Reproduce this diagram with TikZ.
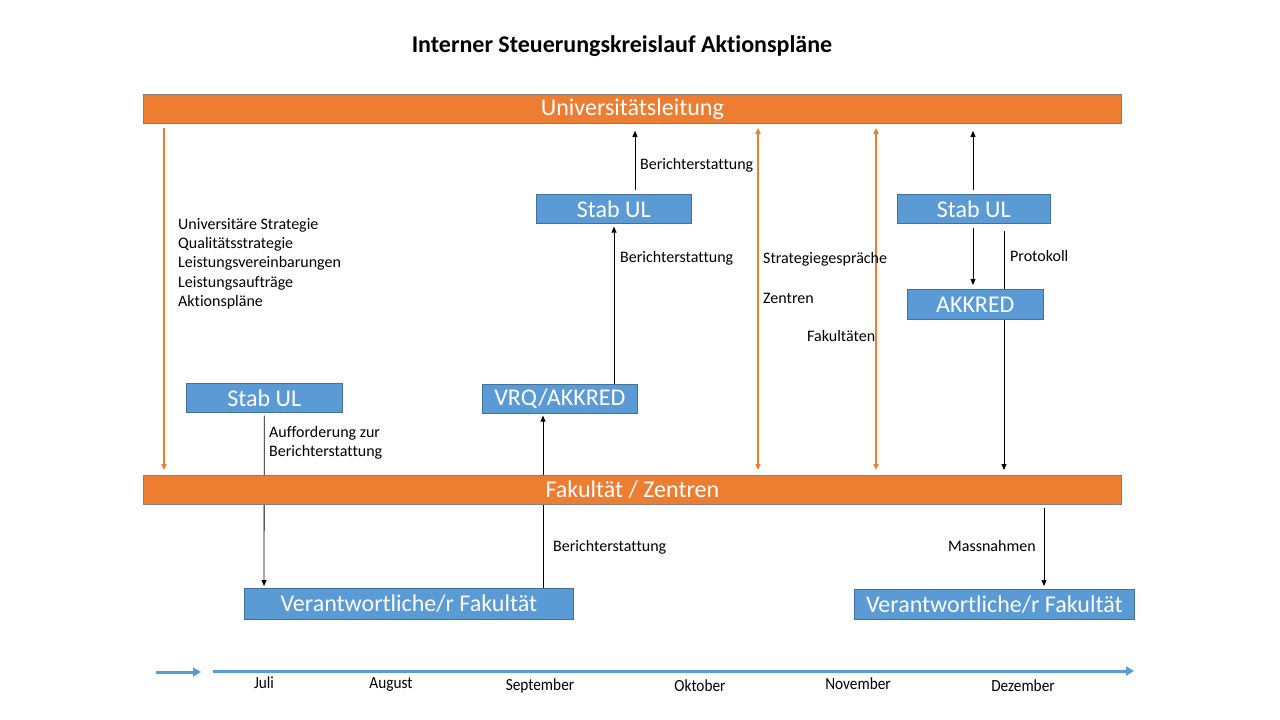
\documentclass[tikz,border=0pt]{standalone}
\usepackage{fontspec}
\setmainfont{Carlito}[Ligatures={NoCommon}]
\usetikzlibrary{arrows.meta,calc,backgrounds}
\definecolor{ubOrange}{HTML}{ED7D31}
\definecolor{ubBlue}{HTML}{5B9BD5}
\definecolor{ubBlueEdge}{HTML}{41719C}
\definecolor{ubGray}{HTML}{7F7F7F}
\begin{document}
\begin{tikzpicture}[x=1pt,y=-1pt,
  bar/.style={draw=ubGray, line width=0.8pt, fill=ubOrange, text=white, font=\fontsize{24}{28}\selectfont, minimum width=978pt, minimum height=29pt, inner sep=0pt, anchor=north west},
  box/.style={draw=ubBlueEdge, line width=0.6pt, fill=ubBlue, text=white, font=\fontsize{24}{28}\selectfont, inner sep=0pt, anchor=north west},
  lbl/.style={font=\fontsize{16}{19}\selectfont, anchor=west, inner sep=0pt},
  slbl/.style={font=\fontsize{17}{20}\selectfont, inner sep=0pt, xscale=0.9},
  conn/.style={black, line width=0.8pt},
  arr/.style={conn, -{Triangle[length=6pt,width=5pt]}},
  oarr/.style={ubOrange, line width=1.6pt, -{Triangle[length=6pt,width=5pt]}},
  odarr/.style={ubOrange, line width=1.6pt, {Triangle[length=6pt,width=5pt]}-{Triangle[length=6pt,width=5pt]}},
  tline/.style={ubBlue, line width=3pt, -{Triangle[length=8pt,width=9pt]}}
]
\useasboundingbox (0,0) rectangle (1280,720);

\node[font=\bfseries\fontsize{24}{28}\selectfont] (title) at (622,46) {Interner Steuerungskreislauf Aktionspläne};

\node[bar] (ul) at (143,94) {Universitätsleitung};
\node[bar] (fz) at (143,475) {Fakultät / Zentren};

\node[box, minimum width=156pt, minimum height=29pt] (s1) at (186,383) {Stab UL};
\node[box, minimum width=155pt, minimum height=29pt] (vrq) at (482,384) {VRQ/AKKRED};
\node[box, minimum width=155pt, minimum height=29pt] (s2) at (536,194) {Stab UL};
\node[box, minimum width=153pt, minimum height=29pt] (s3) at (897,194) {Stab UL};
\node[box, minimum width=136pt, minimum height=30pt] (ak) at (907,289) {AKKRED};
\node[box, minimum width=329pt, minimum height=31pt] (v1) at (244,588) {Verantwortliche/r Fakultät};
\node[box, minimum width=280pt, minimum height=30pt] (v2) at (854,589) {Verantwortliche/r Fakultät};

\begin{scope}[on background layer]
  \draw[arr] ($(s1.south)+(0,3)$) -- ($(v1.north west)+(20,-2)$);
  \draw[arr] ($(v1.north west)+(299,0)$) -- ($(vrq.south west)+(61,2)$);
  \draw[conn] ($(s3.south west)+(107,7)$) -- ($(fz.north west)+(861,-10)$);
\end{scope}
\draw[arr] ($(fz.north west)+(861,-12)$) -- ($(fz.north west)+(861,-5)$);

\draw[oarr] ($(ul.south west)+(21,4)$) -- ($(fz.north west)+(21,-5)$);
\draw[odarr] ($(ul.south west)+(615,4)$) -- ($(fz.north west)+(615,-5)$);
\draw[odarr] ($(ul.south west)+(733,4)$) -- ($(fz.north west)+(733,-5)$);

\draw[arr] ($(vrq.north west)+(132,0)$) -- ($(s2.south west)+(78,3)$);
\draw[arr] ($(s2.north west)+(99,-4)$) -- ($(ul.south west)+(492,7)$);
\draw[arr] ($(s3.north west)+(76,-4)$) -- ($(ul.south west)+(830,7)$);
\draw[arr] ($(s3.south west)+(76,4)$) -- ($(ak.north west)+(66,-4)$);
\draw[arr] ($(fz.south west)+(901,3)$) -- ($(v2.north west)+(190,-3)$);

\node[lbl] (t1) at (178,225) {Universitäre Strategie};
\node[lbl] (t2) at (178,244) {Qualitätsstrategie};
\node[lbl] (t3) at (178,263) {Leistungsvereinbarungen};
\node[lbl] (t4) at (178,283) {Leistungsaufträge};
\node[lbl] (t5) at (178,302) {Aktionspläne};

\node[lbl] (a1) at (269,433) {Aufforderung zur};
\node[lbl] (a2) at (269,452) {Berichterstattung};
\node[lbl] (b1) at (640,165) {Berichterstattung};
\node[lbl] (b2) at (620,258) {Berichterstattung};
\node[lbl] (b3) at (553,547) {Berichterstattung};
\node[lbl] (sg) at (763,259) {Strategiegespräche};
\node[lbl] (ze) at (763,298) {Zentren};
\node[lbl] (fk) at (807,336) {Fakultäten};
\node[lbl] (pr) at (1010,256) {Protokoll};
\node[lbl] (ma) at (948,546) {Massnahmen};

\coordinate (ts1) at (156,672);
\coordinate (te1) at (201,672);
\coordinate (ts2) at (213,671);
\coordinate (te2) at (1134,671);
\draw[tline] (ts1) -- (te1);
\draw[tline] (ts2) -- (te2);

\node[slbl] (m1) at (264,683) {Juli};
\node[slbl] (m2) at (391,685) {August};
\node[slbl] (m3) at (540,686) {September};
\node[slbl] (m4) at (700,686) {Oktober};
\node[slbl] (m5) at (858,684) {November};
\node[slbl] (m6) at (1023,686) {Dezember};
\end{tikzpicture}
\end{document}
